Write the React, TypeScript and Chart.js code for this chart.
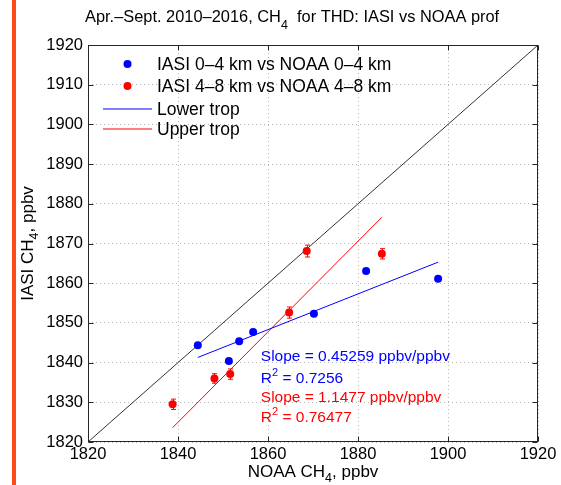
import React, { useEffect, useRef } from "react";
import { Chart, registerables } from "chart.js";

Chart.register(...registerables);

const FONT = "'Liberation Sans', Arial, Helvetica, sans-serif";
const BLUE = "#0000ff";
const RED = "#ff0000";

// ---- data ----
const xTicks = [1820, 1840, 1860, 1880, 1900, 1920];
const yTicks = [1820, 1830, 1840, 1850, 1860, 1870, 1880, 1890, 1900, 1910, 1920];

const lowerLabel = "IASI 0–4 km vs NOAA 0–4 km";
const upperLabel = "IASI 4–8 km vs NOAA 4–8 km";

const blueX = [1844.4, 1851.3, 1853.6, 1856.7, 1870.2, 1881.8, 1897.8];
const blueY = [1844.4, 1840.4, 1845.4, 1847.7, 1852.3, 1863.1, 1861.1];

const redX = [1838.8, 1848.1, 1851.6, 1864.7, 1868.6, 1885.3];
const redY = [1829.5, 1836.0, 1837.1, 1852.6, 1868.1, 1867.4];
const redErr = [1.3, 1.2, 1.3, 1.4, 1.5, 1.3];

const lowerFitX = [1844.4, 1897.8];
const lowerFitY = [1841.3, 1865.3];
const upperFitX = [1838.8, 1885.3];
const upperFitY = [1823.6, 1876.6];

const oneToOneX = [1820, 1920];
const oneToOneY = [1820, 1920];

const lowerSlope = "0.45259";
const lowerR2 = "0.7256";
const upperSlope = "1.1477";
const upperR2 = "0.76477";

const toPts = (xs: number[], ys: number[]) => xs.map((x, i) => ({ x, y: ys[i] }));

type Part = { t: string; dy?: number; size?: number };

function drawRich(ctx: CanvasRenderingContext2D, parts: Part[], x: number, y: number, size: number, color: string, align: "left" | "center" = "left") {
  ctx.fillStyle = color;
  ctx.textBaseline = "alphabetic";
  ctx.textAlign = "left";
  let total = 0;
  const widths = parts.map((p) => {
    ctx.font = `${p.size ?? size}px ${FONT}`;
    const w = ctx.measureText(p.t).width;
    total += w;
    return w;
  });
  let cx = align === "center" ? x - total / 2 : x;
  parts.forEach((p, i) => {
    ctx.font = `${p.size ?? size}px ${FONT}`;
    ctx.fillText(p.t, cx, y + (p.dy ?? 0));
    cx += widths[i];
  });
}

const overlay = {
  id: "overlay",
  beforeDatasetsDraw(chart: any) {
    const { ctx, scales } = chart;
    const x = scales.x;
    const y = scales.y;
    ctx.save();
    ctx.strokeStyle = RED;
    ctx.lineWidth = 1;
    redX.forEach((vx, i) => {
      const px = Math.round(x.getPixelForValue(vx)) + 0.5;
      const t = y.getPixelForValue(redY[i] + redErr[i]);
      const b = y.getPixelForValue(redY[i] - redErr[i]);
      ctx.beginPath();
      ctx.moveTo(px, t);
      ctx.lineTo(px, b);
      ctx.moveTo(px - 2.5, t);
      ctx.lineTo(px + 2.5, t);
      ctx.moveTo(px - 2.5, b);
      ctx.lineTo(px + 2.5, b);
      ctx.stroke();
    });
    ctx.restore();
  },
  afterDraw(chart: any) {
    const { ctx, chartArea: a, scales } = chart;
    const x = scales.x;
    const y = scales.y;
    ctx.save();

    // box
    const L = Math.round(a.left) + 0.5;
    const R = Math.round(a.right) - 0.5;
    const T = Math.round(a.top) + 0.5;
    const B = Math.round(a.bottom) - 0.5;
    ctx.strokeStyle = "#262626";
    ctx.lineWidth = 1;
    ctx.strokeRect(L, T, R - L, B - T);

    // inward ticks
    const tl = 5;
    ctx.beginPath();
    xTicks.forEach((v) => {
      const px = Math.round(x.getPixelForValue(v)) + 0.5;
      ctx.moveTo(px, B);
      ctx.lineTo(px, B - tl);
      ctx.moveTo(px, T);
      ctx.lineTo(px, T + tl);
    });
    yTicks.forEach((v) => {
      const py = Math.round(y.getPixelForValue(v)) + 0.5;
      ctx.moveTo(L, py);
      ctx.lineTo(L + tl, py);
      ctx.moveTo(R, py);
      ctx.lineTo(R - tl, py);
    });
    ctx.stroke();

    // title
    drawRich(
      ctx,
      [
        { t: "Apr.–Sept. 2010–2016, CH" },
        { t: "4", dy: 7, size: 12.5 },
        { t: "  for THD: IASI vs NOAA prof" },
      ],
      85,
      21.7,
      16.4,
      "#000"
    );

    // x axis title
    drawRich(
      ctx,
      [{ t: "NOAA CH" }, { t: "4", dy: 5, size: 12.5 }, { t: ", ppbv" }],
      (a.left + a.right) / 2,
      477,
      17,
      "#000",
      "center"
    );

    // y axis title
    ctx.save();
    ctx.translate(33, (a.top + a.bottom) / 2);
    ctx.rotate(-Math.PI / 2);
    drawRich(ctx, [{ t: "IASI CH" }, { t: "4", dy: 5, size: 12.5 }, { t: ", ppbv" }], 0, 0, 17, "#000", "center");
    ctx.restore();

    // legend
    const lx0 = a.left + 15;
    const lx1 = a.left + 64;
    const mx = a.left + 39.5;
    const tx = a.left + 69;
    const rows = [a.top + 19, a.top + 41, a.top + 63.5, a.top + 84];
    const ds = chart.data.datasets;
    const legendColors = [BLUE, RED, BLUE, RED];
    const legendSize = 17.5;
    [0, 1].forEach((k) => {
      ctx.fillStyle = legendColors[k];
      ctx.beginPath();
      ctx.arc(mx, rows[k], 4, 0, Math.PI * 2);
      ctx.fill();
    });
    [2, 3].forEach((k) => {
      ctx.strokeStyle = legendColors[k];
      ctx.lineWidth = 1;
      ctx.beginPath();
      ctx.moveTo(lx0, Math.round(rows[k]));
      ctx.lineTo(lx1, Math.round(rows[k]));
      ctx.stroke();
    });
    [0, 1, 2, 3].forEach((k) => {
      drawRich(ctx, [{ t: ds[k].label }], tx, rows[k] + 6, legendSize, "#000");
    });

    // fit annotations
    const ax = x.getPixelForValue(1858.4);
    const annSize = 15.5;
    drawRich(ctx, [{ t: `Slope = ${lowerSlope} ppbv/ppbv` }], ax, y.getPixelForValue(1840.5), annSize, BLUE);
    drawRich(ctx, [{ t: "R" }, { t: "2", dy: -7, size: 11 }, { t: ` = ${lowerR2}` }], ax, y.getPixelForValue(1834.9), annSize, BLUE);
    drawRich(ctx, [{ t: `Slope = ${upperSlope} ppbv/ppbv` }], ax, y.getPixelForValue(1830.2), annSize, RED);
    drawRich(ctx, [{ t: "R" }, { t: "2", dy: -7, size: 11 }, { t: ` = ${upperR2}` }], ax, y.getPixelForValue(1825.1), annSize, RED);

    ctx.restore();
  },
};

export default function App() {
  const ref = useRef<HTMLCanvasElement | null>(null);

  useEffect(() => {
    if (!ref.current) return;
    const gridOpts = {
      color: "#b4b4b4",
      lineWidth: 1,
      drawTicks: false,
    };
    const chart = new Chart(ref.current, {
      type: "scatter",
      data: {
        datasets: [
          {
            label: lowerLabel,
            data: toPts(blueX, blueY),
            backgroundColor: BLUE,
            borderColor: BLUE,
            pointRadius: 4,
            pointBorderWidth: 0,
            showLine: false,
          },
          {
            label: upperLabel,
            data: toPts(redX, redY),
            backgroundColor: RED,
            borderColor: RED,
            pointRadius: 4,
            pointBorderWidth: 0,
            showLine: false,
          },
          {
            label: "Lower trop",
            data: toPts(lowerFitX, lowerFitY),
            backgroundColor: BLUE,
            borderColor: BLUE,
            borderWidth: 1,
            pointRadius: 0,
            showLine: true,
          },
          {
            label: "Upper trop",
            data: toPts(upperFitX, upperFitY),
            backgroundColor: RED,
            borderColor: RED,
            borderWidth: 1,
            pointRadius: 0,
            showLine: true,
          },
          {
            label: "1:1",
            data: toPts(oneToOneX, oneToOneY),
            backgroundColor: "#333",
            borderColor: "#333",
            borderWidth: 1,
            pointRadius: 0,
            showLine: true,
          },
        ],
      } as any,
      options: {
        animation: false,
        responsive: false,
        events: [],
        layout: { padding: { left: 0, top: 45, right: 23, bottom: 0 } },
        plugins: {
          legend: { display: false },
          title: { display: false },
          tooltip: { enabled: false },
        },
        scales: {
          x: {
            type: "linear",
            min: 1820,
            max: 1920,
            afterBuildTicks: (s: any) => {
              s.ticks = xTicks.map((v) => ({ value: v }));
            },
            afterFit: (s: any) => {
              s.height = 43;
            },
            grid: gridOpts,
            border: { display: false, dash: [1, 3] },
            ticks: {
              autoSkip: false,
              maxRotation: 0,
              padding: 3,
              color: "#000",
              font: { family: FONT, size: 16.5 },
              callback: (v: any) => String(v),
            },
          },
          y: {
            type: "linear",
            min: 1820,
            max: 1920,
            afterBuildTicks: (s: any) => {
              s.ticks = yTicks.map((v) => ({ value: v }));
            },
            afterFit: (s: any) => {
              s.width = 88;
            },
            grid: gridOpts,
            border: { display: false, dash: [1, 3] },
            ticks: {
              autoSkip: false,
              padding: 5,
              color: "#000",
              font: { family: FONT, size: 16.5 },
              callback: (v: any) => String(v),
            },
          },
        },
      } as any,
      plugins: [overlay],
    });
    return () => chart.destroy();
  }, []);

  return (
    <div style={{ position: "absolute", left: 0, top: 0, width: 561, height: 485, background: "#fff", overflow: "hidden" }}>
      <canvas ref={ref} width={561} height={485} style={{ position: "absolute", left: 0, top: 0, width: 561, height: 485 }} />
      <div style={{ position: "absolute", left: 12, top: 0, width: 4, height: 485, background: "#ff4a1a" }} />
    </div>
  );
}
